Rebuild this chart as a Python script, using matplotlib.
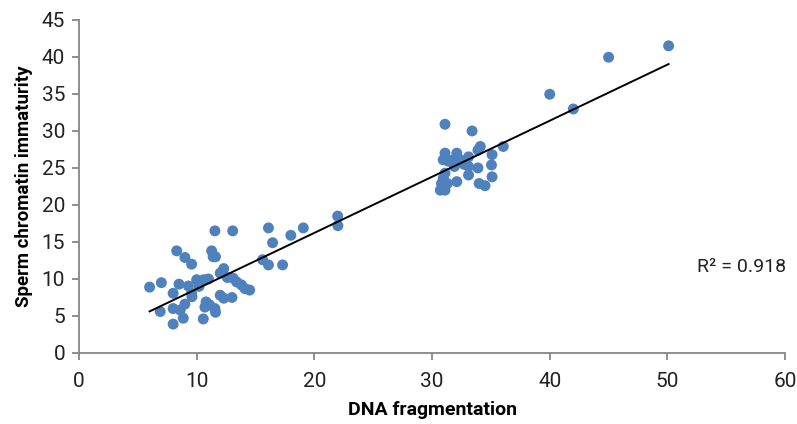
import numpy as np
import matplotlib
matplotlib.use("Agg")
import matplotlib.pyplot as plt

plt.rcParams['font.family'] = ['Roboto', 'DejaVu Sans']

# DNA fragmentation (x) vs sperm chromatin immaturity (y)
dna = [6.0, 7.0, 8.5, 8.0, 9.3, 10.0, 10.6, 11.0, 12.0, 12.3, 13.1, 13.4, 14.1, 13.8,
       12.0, 12.3, 13.0, 10.8, 11.1, 11.55, 10.7, 6.9, 8.0, 8.6, 8.86, 8.0, 10.56, 9.57,
       9.6, 8.3, 9.0, 9.57, 11.27, 11.4, 11.6, 11.55, 13.06, 10.2, 11.6, 12.6, 9.0,
       14.5, 15.6, 16.1, 17.3, 16.45, 18.0, 16.1, 19.06, 22.0, 21.98,
       31.1, 33.4, 36.05, 34.1, 33.9, 35.1, 31.1, 32.1, 33.1, 30.95, 31.4, 31.8, 32.4,
       32.7, 31.9, 33.1, 33.9, 35.05, 33.1, 35.1, 32.1, 34.0, 34.5, 31.1, 30.95, 30.8,
       30.7, 31.1, 31.3,
       40.0, 42.0, 45.0, 50.1]
sci = [8.9, 9.5, 9.3, 8.07, 9.05, 9.9, 9.9, 10.0, 10.8, 11.4, 10.1, 9.6, 8.7, 9.2,
       7.8, 7.4, 7.5, 6.9, 6.5, 6.0, 6.2, 5.6, 6.0, 5.8, 4.7, 3.9, 4.6, 8.07,
       7.6, 13.8, 12.9, 12.0, 13.8, 13.0, 13.0, 16.5, 16.5, 9.0, 5.5, 10.2, 6.6,
       8.5, 12.6, 11.9, 11.9, 14.9, 15.9, 16.9, 16.9, 17.2, 18.5,
       30.9, 30.0, 27.9, 27.9, 27.4, 26.8, 27.0, 27.0, 26.5, 26.1, 25.9, 26.1, 26.1,
       25.5, 25.2, 25.2, 25.0, 25.4, 24.05, 23.8, 23.15, 22.9, 22.6, 24.3, 23.6, 22.9,
       22.0, 22.0, 22.9,
       34.96, 32.97, 39.96, 41.5]
r2_text = "R² = 0.918"

fig = plt.figure(figsize=(7.97, 4.24), dpi=100)
ax = fig.add_axes([0.0991, 0.1675, 0.886, 0.7855])

ax.scatter(dna, sci, s=62, color='#4F81BD', edgecolors='none', zorder=3)

# linear trendline
k, b = np.polyfit(dna, sci, 1)
xs = np.array([min(dna), max(dna)])
ax.plot(xs, k * xs + b, color='black', lw=1.4, zorder=4)

ax.text(52.5, 11.6, r2_text, fontsize=14, va='center', ha='left', color='#222222')

ax.set_xlim(0, 60)
ax.set_ylim(0, 45)
ax.set_xticks(range(0, 61, 10))
ax.set_yticks(range(0, 46, 5))
for s in ['top', 'right']:
    ax.spines[s].set_visible(False)
for s in ['left', 'bottom']:
    ax.spines[s].set_color('#868686')
    ax.spines[s].set_linewidth(1.3)
ax.tick_params(direction='out', length=5, width=1.3, color='#868686',
               labelsize=15, labelcolor='#222222')
ax.tick_params(axis='x', pad=9)
ax.tick_params(axis='y', pad=5)
ax.set_xlabel('DNA fragmentation', fontsize=14, fontweight='bold', labelpad=7)
ax.set_ylabel('Sperm chromatin immaturity', fontsize=13.5, fontweight='bold', labelpad=6)

fig.savefig('out.png', dpi=100)
